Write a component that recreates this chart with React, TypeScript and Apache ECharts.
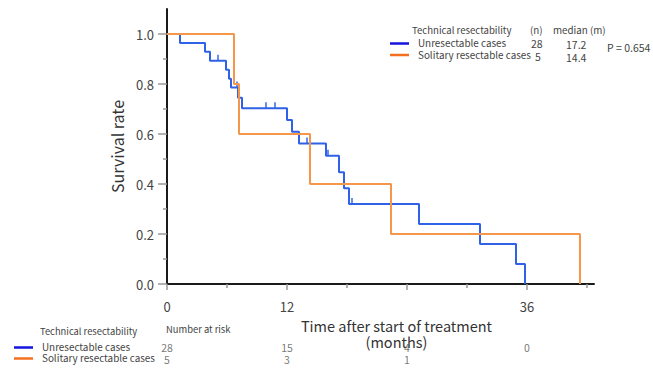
import React, { useEffect, useRef } from "react";
import * as echarts from "echarts";

// ---- data ----
const groupLabels = ["Unresectable cases", "Solitary resectable cases"];
const groupN = ["28", "5"];
const groupMedian = ["17.2", "14.4"];
const pValueText = "P = 0.654";
const legendHeader = ["Technical resectability", "(n)", "median (m)"];

// Kaplan-Meier steps: [time (months), survival after the event]
const unresectableSteps: [number, number][] = [
  [0, 1.0],
  [1.3, 0.964],
  [3.8, 0.929],
  [4.3, 0.893],
  [5.9, 0.857],
  [6.2, 0.821],
  [6.4, 0.786],
  [7.1, 0.745],
  [7.5, 0.703],
  [12.0, 0.656],
  [12.5, 0.609],
  [13.2, 0.562],
  [15.9, 0.513],
  [17.2, 0.447],
  [17.7, 0.383],
  [18.2, 0.32],
  [25.2, 0.24],
  [31.3, 0.16],
  [34.9, 0.08],
  [35.8, 0.0],
];
const solitarySteps: [number, number][] = [
  [0, 1.0],
  [6.7, 0.8],
  [7.2, 0.6],
  [14.3, 0.4],
  [22.4, 0.2],
  [41.3, 0.0],
];
const unresectableCensored: [number, number][] = [
  [5.1, 0.893],
  [7.0, 0.786],
  [9.9, 0.703],
  [10.8, 0.703],
  [14.0, 0.562],
  [16.1, 0.513],
  [18.5, 0.32],
];

const xMajorTicks = [0, 12, 24, 36];
const xLabelTicks = [0, 12, 36];
const xMinorTicks = [6, 18, 30, 42];
const yMajorTicks = [0, 0.2, 0.4, 0.6, 0.8, 1.0];
const yMinorTicks = [0.1, 0.3, 0.5, 0.7, 0.9];

const riskTimes = [0, 12, 24, 36];
const riskUnresectable: (number | null)[] = [28, 15, 4, 0];
const riskSolitary: (number | null)[] = [5, 3, 1, null];
const riskHeader = ["Technical resectability", "Number at risk"];

const X_MAX = 42.7;
const Y_MAX = 1.1;
const BLUE = "#2f62e6";
const ORANGE = "#f5974a";
const LEG_BLUE = "#1414e0";
const LEG_ORANGE = "#f2701e";
const FONT = "'Noto Sans CJK JP', 'Noto Sans', sans-serif";
const TXT = "#444";

export default function App() {
  const ref = useRef<HTMLDivElement>(null);
  useEffect(() => {
    if (!ref.current) return;
    const chart = echarts.init(ref.current, null, { renderer: "svg" });
    const gridBox = { left: 167, top: 9, width: 427, height: 275 };

    const riskData = (vals: (number | null)[], row: string) =>
      riskTimes
        .map((t, i) => (vals[i] == null ? null : [t, row, vals[i]]))
        .filter((d) => d != null);

    const txt = (text: string, x: number, y: number, size = 10, align = "left") => ({
      type: "text",
      x,
      y,
      style: {
        text,
        fill: TXT,
        fontSize: size,
        fontFamily: FONT,
        align,
        verticalAlign: "middle",
      },
    });
    const seg = (x1: number, x2: number, y: number, color: string) => ({
      type: "line",
      shape: { x1, y1: y, x2, y2: y },
      style: { stroke: color, lineWidth: 2.5 },
    });

    const riskLabel = {
      show: true,
      position: "inside",
      formatter: (p: any) => String(p.value[2]),
      fontSize: 10.5,
      color: "#555",
      fontFamily: FONT,
    };

    chart.setOption({
      animation: false,
      backgroundColor: "#fff",
      textStyle: { fontFamily: FONT },
      grid: [
        { ...gridBox },
        { left: 167, top: 341, width: 427, height: 24 },
        { ...gridBox },
      ],
      xAxis: [
        {
          type: "value",
          gridIndex: 0,
          min: 0,
          max: X_MAX,
          axisLine: { show: true, lineStyle: { color: "#1a1a1a", width: 2 } },
          axisTick: {
            show: true,
            customValues: xMajorTicks,
            length: 6,
            lineStyle: { color: "#999", width: 1.5 },
          },
          axisLabel: {
            customValues: xLabelTicks,
            margin: 16,
            fontSize: 13,
            color: TXT,
            fontFamily: FONT,
          },
          splitLine: { show: false },
          name: "Time after start of treatment\n(months)",
          nameLocation: "middle",
          nameGap: 32,
          nameTextStyle: {
            fontSize: 14.5,
            color: "#333",
            fontFamily: FONT,
            lineHeight: 16,
            padding: [0, 0, 0, 32],
          },
        },
        { type: "value", gridIndex: 1, min: 0, max: X_MAX, show: false },
        {
          type: "value",
          gridIndex: 2,
          min: 0,
          max: X_MAX,
          axisLine: { show: false },
          axisTick: {
            show: true,
            customValues: xMinorTicks,
            length: 4,
            lineStyle: { color: "#999", width: 1.5 },
          },
          axisLabel: { show: false },
          splitLine: { show: false },
        },
      ],
      yAxis: [
        {
          type: "value",
          gridIndex: 0,
          min: 0,
          max: Y_MAX,
          axisLine: { show: true, lineStyle: { color: "#1a1a1a", width: 2 } },
          axisTick: {
            show: true,
            customValues: yMajorTicks,
            length: 9,
            lineStyle: { color: "#999", width: 1.5 },
          },
          axisLabel: {
            customValues: yMajorTicks,
            formatter: (v: number) => v.toFixed(1),
            margin: 13,
            fontSize: 13,
            color: TXT,
            fontFamily: FONT,
          },
          splitLine: { show: false },
          name: "Survival rate",
          nameLocation: "middle",
          nameGap: 40,
          nameTextStyle: { fontSize: 16, color: "#333", fontFamily: FONT },
        },
        {
          type: "category",
          gridIndex: 1,
          data: ["Unresectable", "Solitary"],
          inverse: true,
          show: false,
        },
        {
          type: "value",
          gridIndex: 2,
          min: 0,
          max: Y_MAX,
          axisLine: { show: false },
          axisTick: {
            show: true,
            customValues: yMinorTicks,
            length: 4,
            lineStyle: { color: "#999", width: 1.5 },
          },
          axisLabel: { show: false },
          splitLine: { show: false },
        },
      ],
      series: [
        {
          type: "line",
          name: groupLabels[0],
          xAxisIndex: 0,
          yAxisIndex: 0,
          step: "end",
          data: unresectableSteps,
          symbol: "none",
          lineStyle: { color: BLUE, width: 2 },
          z: 3,
        },
        {
          type: "scatter",
          xAxisIndex: 0,
          yAxisIndex: 0,
          data: unresectableCensored,
          symbol: "rect",
          symbolSize: [1.8, 6],
          symbolOffset: [0, -3],
          itemStyle: { color: BLUE },
          z: 3,
        },
        {
          type: "line",
          name: groupLabels[1],
          xAxisIndex: 0,
          yAxisIndex: 0,
          step: "end",
          data: solitarySteps,
          symbol: "none",
          lineStyle: { color: ORANGE, width: 2 },
          z: 4,
        },
        {
          type: "scatter",
          xAxisIndex: 1,
          yAxisIndex: 1,
          data: riskData(riskUnresectable, "Unresectable"),
          symbolSize: 1,
          itemStyle: { color: "transparent" },
          label: riskLabel,
        },
        {
          type: "scatter",
          xAxisIndex: 1,
          yAxisIndex: 1,
          data: riskData(riskSolitary, "Solitary"),
          symbolSize: 1,
          itemStyle: { color: "transparent" },
          label: riskLabel,
        },
      ],
      graphic: [
        // top-right legend
        txt(legendHeader[0], 412, 30, 9.6),
        txt(legendHeader[1], 530, 30, 9.8),
        txt(legendHeader[2], 553, 30, 9.8),
        seg(390, 409, 43.5, LEG_BLUE),
        txt(groupLabels[0], 418, 43, 9.9),
        txt(groupN[0], 531, 43, 10.5),
        txt(groupMedian[0], 566, 44.5, 10.5),
        txt(pValueText, 607, 47.5, 10.5),
        seg(390, 409, 55, LEG_ORANGE),
        txt(groupLabels[1], 418, 54.5, 9.9),
        txt(groupN[1], 535, 56.5, 10.5),
        txt(groupMedian[1], 566, 57.5, 10.5),
        // bottom risk table labels
        txt(riskHeader[0], 40, 331, 9.4),
        txt(riskHeader[1], 166, 329, 9.4),
        seg(14, 33, 347.5, LEG_BLUE),
        txt(groupLabels[0], 42, 347, 9.9),
        seg(14, 33, 358.5, LEG_ORANGE),
        txt(groupLabels[1], 42, 358, 9.9),
      ],
    });
    return () => chart.dispose();
  }, []);
  return (
    <div
      ref={ref}
      style={{ position: "fixed", left: 0, top: 0, width: 653, height: 368 }}
    />
  );
}
